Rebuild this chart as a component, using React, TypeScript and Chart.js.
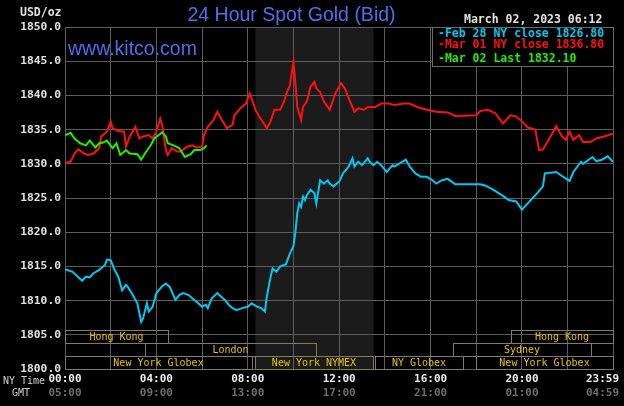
import { useEffect, useRef } from 'react';
import { Chart, registerables } from 'chart.js';

Chart.register(...registerables);

const TITLE = '24 Hour Spot Gold (Bid)';
const SITE = 'www.kitco.com';
const UNIT = 'USD/oz';
const STAMP = 'March 02, 2023 06:12';

const seriesLabels = ['Feb 28 NY close 1826.80', 'Mar 01 NY close 1836.80', 'Mar 02 Last 1832.10'];
const seriesColors = ['#00c8f0', '#ff1010', '#22ee00'];

// minutes after 00:00 NY time
const feb28Minutes = [0, 20, 45, 55, 65, 75, 90, 105, 110, 120, 130, 140, 150, 160, 165, 175, 190, 200, 205, 215, 220, 230, 240, 255, 265, 275, 290, 300, 310, 325, 335, 350, 360, 370, 375, 385, 400, 405, 420, 430, 440, 450, 465, 480, 490, 505, 515, 525, 530, 540, 545, 555, 565, 580, 590, 600, 605, 610, 615, 620, 625, 630, 635, 645, 655, 660, 670, 680, 690, 695, 705, 720, 730, 745, 755, 760, 770, 780, 795, 800, 810, 820, 830, 845, 860, 865, 880, 895, 905, 920, 935, 950, 965, 975, 990, 1005, 1025, 1090, 1105, 1125, 1150, 1165, 1185, 1200, 1220, 1240, 1255, 1260, 1275, 1290, 1300, 1325, 1335, 1355, 1360, 1375, 1385, 1395, 1410, 1425, 1439];
const feb28Prices = [1814.6, 1814.2, 1812.9, 1813.5, 1813.4, 1814.0, 1814.5, 1815.2, 1816.0, 1815.9, 1814.5, 1813.5, 1811.5, 1812.3, 1812.0, 1811.1, 1809.6, 1806.9, 1807.4, 1809.6, 1808.4, 1809.1, 1811.1, 1812.1, 1812.5, 1812.0, 1810.1, 1810.8, 1811.1, 1810.8, 1810.3, 1809.6, 1809.1, 1809.4, 1808.9, 1810.3, 1811.1, 1810.8, 1810.1, 1809.4, 1808.9, 1808.6, 1808.9, 1809.1, 1809.6, 1809.1, 1808.9, 1808.4, 1810.6, 1813.5, 1814.7, 1814.2, 1815.0, 1815.3, 1816.8, 1818.0, 1820.0, 1822.8, 1824.2, 1823.7, 1825.2, 1824.7, 1825.4, 1826.2, 1825.7, 1824.2, 1827.6, 1827.1, 1827.6, 1827.1, 1826.7, 1827.4, 1828.6, 1829.6, 1830.8, 1829.6, 1830.3, 1829.8, 1830.8, 1830.3, 1829.8, 1830.3, 1829.8, 1828.8, 1829.8, 1829.6, 1830.1, 1830.6, 1829.6, 1828.6, 1828.1, 1828.1, 1827.6, 1827.1, 1827.6, 1827.8, 1827.0, 1827.0, 1826.8, 1826.2, 1825.3, 1824.7, 1824.5, 1823.3, 1824.5, 1825.7, 1826.7, 1828.6, 1828.7, 1828.8, 1828.4, 1827.5, 1828.8, 1830.3, 1830.0, 1830.6, 1831.0, 1830.4, 1830.6, 1831.1, 1830.3];

const mar01Minutes = [0, 15, 25, 35, 50, 60, 75, 90, 95, 110, 120, 125, 140, 155, 160, 170, 185, 195, 205, 220, 230, 240, 250, 255, 265, 270, 280, 295, 305, 320, 335, 345, 360, 365, 375, 390, 400, 410, 425, 440, 445, 460, 475, 485, 495, 500, 510, 530, 540, 550, 565, 575, 585, 590, 600, 605, 610, 620, 625, 635, 645, 655, 660, 670, 680, 695, 710, 725, 735, 745, 760, 770, 785, 795, 815, 830, 850, 865, 890, 905, 925, 950, 975, 1005, 1025, 1080, 1090, 1110, 1130, 1150, 1170, 1185, 1200, 1215, 1235, 1245, 1255, 1275, 1290, 1305, 1315, 1325, 1335, 1350, 1360, 1380, 1395, 1415, 1439];
const mar01Prices = [1830.1, 1830.3, 1831.5, 1832.1, 1831.5, 1831.3, 1831.5, 1832.3, 1834.0, 1834.7, 1836.2, 1835.2, 1834.8, 1834.7, 1832.5, 1834.0, 1835.4, 1833.7, 1834.0, 1834.2, 1833.7, 1834.7, 1836.6, 1835.7, 1832.0, 1831.3, 1832.3, 1831.8, 1831.8, 1832.5, 1832.7, 1832.4, 1832.5, 1834.2, 1835.4, 1836.4, 1837.6, 1836.6, 1835.2, 1835.7, 1837.1, 1838.1, 1838.8, 1840.3, 1838.8, 1837.9, 1836.9, 1835.2, 1836.2, 1837.9, 1837.9, 1839.1, 1840.8, 1841.3, 1844.9, 1841.8, 1838.3, 1836.4, 1838.3, 1839.1, 1841.3, 1842.0, 1841.0, 1840.5, 1839.1, 1837.9, 1840.3, 1841.8, 1841.0, 1839.6, 1837.6, 1838.1, 1837.9, 1838.3, 1838.3, 1838.8, 1838.8, 1838.6, 1838.8, 1838.8, 1838.3, 1837.9, 1837.6, 1837.5, 1837.0, 1837.1, 1837.7, 1837.9, 1837.4, 1835.9, 1837.1, 1836.9, 1836.2, 1835.3, 1835.0, 1832.0, 1832.1, 1834.0, 1835.5, 1834.0, 1833.5, 1834.7, 1833.5, 1834.2, 1833.2, 1833.2, 1833.7, 1834.0, 1834.4];

const mar02Minutes = [0, 15, 25, 40, 55, 65, 80, 90, 100, 110, 125, 135, 145, 160, 170, 190, 200, 210, 225, 235, 255, 265, 270, 285, 300, 315, 330, 340, 355, 365, 372];
const mar02Prices = [1834.2, 1834.5, 1833.7, 1833.0, 1832.7, 1833.4, 1832.4, 1833.0, 1833.1, 1833.4, 1832.3, 1833.0, 1831.3, 1832.0, 1831.5, 1831.4, 1830.6, 1831.5, 1832.7, 1833.7, 1834.6, 1834.0, 1833.0, 1832.7, 1832.3, 1831.0, 1831.4, 1832.0, 1832.0, 1832.3, 1832.7];

const yTickValues = [1800, 1805, 1810, 1815, 1820, 1825, 1830, 1835, 1840, 1845, 1850];
const gridMinutes = [0, 120, 240, 360, 480, 600, 720, 840, 960, 1080, 1200, 1320, 1439];
const nyTickMinutes = [0, 240, 480, 720, 960, 1200, 1439];
const nyTickLabels = ['00:00', '04:00', '08:00', '12:00', '16:00', '20:00', '23:59'];
const gmtTickLabels = ['05:00', '09:00', '13:00', '17:00', '21:00', '01:00', '04:59'];

const sessionNames = ['Hong Kong', 'Hong Kong', 'London', 'Sydney', 'New York Globex', 'New York NYMEX', 'NY Globex', 'New York Globex'];
const sessionStarts = [0, 1170, 210, 1020, 0, 500, 815, 1080];
const sessionEnds = [270, 1439, 660, 1380, 490, 810, 1045, 1439];
const sessionRows = [0, 0, 1, 1, 2, 2, 2, 2];

const pitStart = 500;
const pitEnd = 810;

const MONO = '"DejaVu Sans Mono", "Liberation Mono", monospace';
const SANS = '"Liberation Sans", Arial, sans-serif';
const GRID = '#5c5c5c';

const decorPlugin = {
  id: 'decor',
  beforeDraw(chart: any) {
    const { ctx, chartArea: a, scales } = chart;
    const x = scales.x;
    ctx.save();
    ctx.fillStyle = '#000';
    ctx.fillRect(0, 0, chart.width, chart.height);
    const x0 = x.getPixelForValue(pitStart);
    const x1 = x.getPixelForValue(pitEnd);
    ctx.fillStyle = '#1b1b1b';
    ctx.fillRect(x0, a.top, x1 - x0, a.bottom - a.top);
    ctx.restore();
  },
  afterDraw(chart: any) {
    const { ctx, chartArea: a, scales } = chart;
    const x = scales.x;
    ctx.save();

    // title + site
    ctx.textBaseline = 'alphabetic';
    ctx.fillStyle = '#4b70ec';
    ctx.font = `19.5px ${SANS}`;
    ctx.textAlign = 'center';
    ctx.fillText(TITLE, 291.5, 21);
    ctx.textAlign = 'left';
    ctx.fillText(SITE, a.left + 3, 55);

    // unit + timestamp
    ctx.textBaseline = 'middle';
    ctx.font = `bold 11.5px ${MONO}`;
    ctx.fillStyle = '#e2e2e2';
    ctx.textAlign = 'left';
    ctx.fillText(UNIT, 20, 13.5);
    ctx.fillText(STAMP, 464, 20);

    // legend box
    const lw = 181;
    const lh = 39;
    const lx = a.right - lw;
    const ly = a.top;
    ctx.fillStyle = '#000';
    ctx.fillRect(lx, ly, lw, lh);
    ctx.strokeStyle = '#6a6a6a';
    ctx.lineWidth = 1;
    ctx.strokeRect(Math.round(lx) + 0.5, Math.round(ly) + 0.5, lw, lh);
    const rowsY = [7, 18, 32];
    chart.data.datasets.forEach((ds: any, i: number) => {
      ctx.fillStyle = ds.borderColor;
      ctx.font = `bold 11.5px ${MONO}`;
      ctx.fillText('-' + ds.label, lx + 6, ly + rowsY[i]);
    });

    // trading session boxes
    ctx.font = `10px ${MONO}`;
    sessionNames.forEach((name, i) => {
      const l = Math.round(x.getPixelForValue(sessionStarts[i]));
      const r = Math.round(x.getPixelForValue(sessionEnds[i]));
      const top = Math.round(a.bottom) - 13 * (3 - sessionRows[i]);
      ctx.strokeStyle = '#817f5a';
      ctx.strokeRect(l + 0.5, top + 0.5, r - l, 13);
      ctx.fillStyle = '#e8c000';
      ctx.textAlign = 'center';
      ctx.fillText(name, (l + r) / 2, top + 7);
    });

    // time axis labels
    ctx.textAlign = 'center';
    nyTickMinutes.forEach((m, i) => {
      ctx.font = `bold 11px ${MONO}`;
      const w = ctx.measureText(nyTickLabels[i]).width;
      let cx = x.getPixelForValue(m);
      cx = Math.min(cx, chart.width - 5 - w / 2);
      ctx.fillStyle = '#eeeeee';
      ctx.fillText(nyTickLabels[i], cx, a.bottom + 10.5);
      ctx.fillStyle = '#6e6e6e';
      ctx.fillText(gmtTickLabels[i], cx, a.bottom + 24);
    });
    ctx.textAlign = 'left';
    ctx.font = `10px ${MONO}`;
    ctx.fillStyle = '#d0d0d0';
    ctx.fillText('NY Time', 3, a.bottom + 12);
    ctx.fillText('GMT', 12, a.bottom + 24.5);

    ctx.restore();
  },
};

export default function App() {
  const ref = useRef<HTMLCanvasElement | null>(null);

  useEffect(() => {
    document.body.style.margin = '0';
    document.body.style.background = '#000';
    const canvas = ref.current;
    if (!canvas) return;

    const mk = (mins: number[], vals: number[]) => mins.map((m, i) => ({ x: m, y: vals[i] }));

    const chart = new Chart(canvas, {
      type: 'line',
      data: {
        datasets: [
          { label: seriesLabels[0], data: mk(feb28Minutes, feb28Prices), borderColor: seriesColors[0], backgroundColor: seriesColors[0], borderWidth: 2, pointRadius: 0, tension: 0, order: 3 },
          { label: seriesLabels[1], data: mk(mar01Minutes, mar01Prices), borderColor: seriesColors[1], backgroundColor: seriesColors[1], borderWidth: 2, pointRadius: 0, tension: 0, order: 2 },
          { label: seriesLabels[2], data: mk(mar02Minutes, mar02Prices), borderColor: seriesColors[2], backgroundColor: seriesColors[2], borderWidth: 2, pointRadius: 0, tension: 0, order: 1 },
        ],
      },
      options: {
        animation: false,
        responsive: false,
        maintainAspectRatio: false,
        layout: { padding: { left: 0, right: 11, top: 27, bottom: 37 } },
        plugins: {
          legend: { display: false },
          title: { display: false },
          tooltip: { enabled: false },
        },
        scales: {
          x: {
            type: 'linear',
            min: 0,
            max: 1439,
            afterBuildTicks: (s: any) => {
              s.ticks = gridMinutes.map((v) => ({ value: v }));
            },
            ticks: { display: false },
            grid: { color: GRID, drawTicks: false, lineWidth: 1 },
            border: { display: false },
          },
          y: {
            type: 'linear',
            min: 1800,
            max: 1850,
            afterBuildTicks: (s: any) => {
              s.ticks = yTickValues.map((v) => ({ value: v }));
            },
            afterFit: (s: any) => {
              s.width = 65;
            },
            ticks: {
              autoSkip: false,
              padding: 4,
              color: '#e2e2e2',
              font: { family: MONO, weight: 'bold', size: 11.3 },
              callback: (v: any) => Number(v).toFixed(1),
            },
            grid: { color: GRID, drawTicks: false, lineWidth: 1 },
            border: { display: false },
          },
        },
      } as any,
      plugins: [decorPlugin],
    });

    return () => chart.destroy();
  }, []);

  return (
    <div style={{ position: 'fixed', left: 0, top: 0, width: 624, height: 406, background: '#000' }}>
      <canvas ref={ref} width={624} height={406} style={{ display: 'block' }} />
    </div>
  );
}
